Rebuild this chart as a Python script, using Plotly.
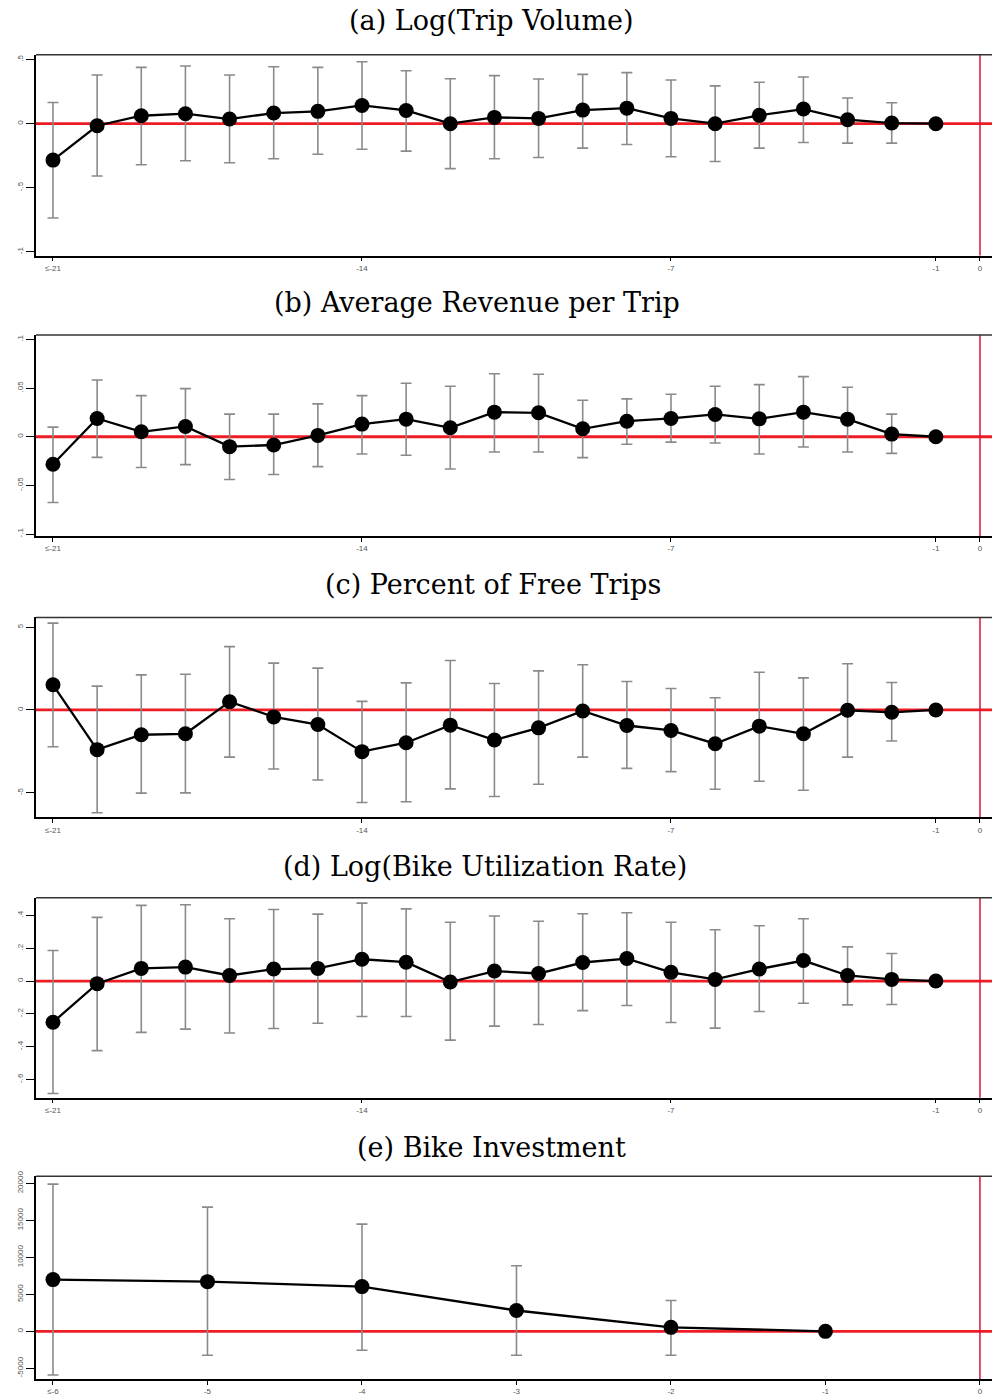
import plotly.graph_objects as go

# Event-time periods (weeks relative to treatment); -21 bins everything earlier
periods = [-21, -20, -19, -18, -17, -16, -15, -14, -13, -12, -11,
           -10, -9, -8, -7, -6, -5, -4, -3, -2, -1]
periods_e = [-6, -5, -4, -3, -2, -1]

# (a) Log(Trip Volume)
coef_a = [-0.284, -0.016, 0.062, 0.078, 0.036, 0.083, 0.096, 0.142, 0.103, 0.0, 0.049,
          0.041, 0.106, 0.121, 0.041, 0.0, 0.065, 0.114, 0.031, 0.005, 0.0]
hi_a = [0.165, 0.38, 0.439, 0.45, 0.38, 0.444, 0.439, 0.483, 0.413, 0.351, 0.375,
        0.349, 0.385, 0.398, 0.341, 0.295, 0.323, 0.364, 0.2, 0.163, 0.0]
lo_a = [-0.736, -0.408, -0.32, -0.289, -0.305, -0.274, -0.238, -0.199, -0.214, -0.351, -0.274,
        -0.264, -0.191, -0.163, -0.258, -0.295, -0.191, -0.147, -0.152, -0.152, 0.0]

# (b) Average Revenue per Trip
coef_b = [-0.0283, 0.0188, 0.0051, 0.0106, -0.0102, -0.0085, 0.0014, 0.013, 0.0181, 0.0092, 0.0253,
          0.0246, 0.0082, 0.016, 0.0188, 0.0229, 0.0184, 0.0253, 0.0181, 0.0027, 0.0]
hi_b = [0.0099, 0.0584, 0.0423, 0.0495, 0.0232, 0.0232, 0.0338, 0.0423, 0.055, 0.0519, 0.0648,
        0.0642, 0.0375, 0.0389, 0.0437, 0.0519, 0.0536, 0.0618, 0.0509, 0.0232, 0.0]
lo_b = [-0.0676, -0.0212, -0.0317, -0.0287, -0.044, -0.0389, -0.0307, -0.0177, -0.0191, -0.0331, -0.0157,
        -0.0157, -0.0215, -0.0078, -0.0055, -0.0065, -0.0177, -0.0106, -0.0157, -0.0171, 0.0]

# (c) Percent of Free Trips
coef_c = [1.52, -2.40, -1.50, -1.44, 0.50, -0.42, -0.88, -2.52, -1.98, -0.92, -1.82,
          -1.08, -0.06, -0.94, -1.24, -2.04, -0.98, -1.44, -0.02, -0.14, 0.0]
hi_c = [5.25, 1.44, 2.12, 2.16, 3.83, 2.83, 2.53, 0.52, 1.64, 2.99, 1.60,
        2.36, 2.73, 1.72, 1.30, 0.74, 2.28, 1.94, 2.79, 1.66, 0.0]
lo_c = [-2.22, -6.21, -5.03, -5.01, -2.85, -3.57, -4.23, -5.59, -5.55, -4.77, -5.23,
        -4.49, -2.85, -3.53, -3.73, -4.79, -4.31, -4.85, -2.85, -1.88, 0.0]

# (d) Log(Bike Utilization Rate)
coef_d = [-0.251, -0.016, 0.077, 0.085, 0.034, 0.073, 0.077, 0.133, 0.115, -0.006, 0.061,
          0.046, 0.113, 0.137, 0.053, 0.010, 0.073, 0.125, 0.034, 0.010, 0.0]
hi_d = [0.186, 0.388, 0.461, 0.465, 0.380, 0.436, 0.408, 0.475, 0.440, 0.358, 0.396,
        0.364, 0.410, 0.416, 0.358, 0.313, 0.337, 0.380, 0.208, 0.168, 0.0]
lo_d = [-0.685, -0.424, -0.313, -0.293, -0.317, -0.289, -0.257, -0.216, -0.216, -0.360, -0.275,
        -0.265, -0.180, -0.149, -0.253, -0.287, -0.186, -0.135, -0.145, -0.143, 0.0]

# (e) Bike Investment
coef_e = [7000, 6720, 6050, 2820, 540, 0]
hi_e = [19900, 16800, 14500, 8870, 4170, 0]
lo_e = [-5900, -3230, -2550, -3230, -3230, 0]

# Axis ticks
xticks_w = [-21, -14, -7, -1, 0]
xlabels_w = ["\u2264-21", "-14", "-7", "-1", "0"]
xticks_e = [-6, -5, -4, -3, -2, -1, 0]
xlabels_e = ["\u2264-6", "-5", "-4", "-3", "-2", "-1", "0"]

yticks_a = [0.5, 0, -0.5, -1]
ylabels_a = [".5", "0", "-.5", "-1"]
yticks_b = [0.1, 0.05, 0, -0.05, -0.1]
ylabels_b = [".1", ".05", "0", "-.05", "-.1"]
yticks_c = [5, 0, -5]
ylabels_c = ["5", "0", "-5"]
yticks_d = [0.4, 0.2, 0, -0.2, -0.4, -0.6]
ylabels_d = [".4", ".2", "0", "-.2", "-.4", "-.6"]
yticks_e = [20000, 15000, 10000, 5000, 0, -5000]
ylabels_e = ["20000", "15000", "10000", "5000", "0", "-5000"]

titles = ["(a) Log(Trip Volume)", "(b) Average Revenue per Trip",
          "(c) Percent of Free Trips", "(d) Log(Bike Utilization Rate)",
          "(e) Bike Investment"]

W, H = 992, 1396

panels = [
    dict(x=periods, c=coef_a, hi=hi_a, lo=lo_a, xt=xticks_w, xl=xlabels_w,
         yt=yticks_a, yl=ylabels_a, xr=[-21.385, 0.272], yr=[-1.029, 0.538],
         box=(49, 251), ty=15, tx=491),
    dict(x=periods, c=coef_b, hi=hi_b, lo=lo_b, xt=xticks_w, xl=xlabels_w,
         yt=yticks_b, yl=ylabels_b, xr=[-21.385, 0.272], yr=[-0.102, 0.1045],
         box=(331, 533), ty=298, tx=477),
    dict(x=periods, c=coef_c, hi=hi_c, lo=lo_c, xt=xticks_w, xl=xlabels_w,
         yt=yticks_c, yl=ylabels_c, xr=[-21.385, 0.272], yr=[-6.49, 5.59],
         box=(615, 816), ty=582, tx=493),
    dict(x=periods, c=coef_d, hi=hi_d, lo=lo_d, xt=xticks_w, xl=xlabels_w,
         yt=yticks_d, yl=ylabels_d, xr=[-21.385, 0.272], yr=[-0.711, 0.507],
         box=(897, 1098), ty=865, tx=485),
    dict(x=periods_e, c=coef_e, hi=hi_e, lo=lo_e, xt=xticks_e, xl=xlabels_e,
         yt=yticks_e, yl=ylabels_e, xr=[-6.11, 0.078], yr=[-6452, 20968],
         box=(1177, 1381), ty=1148, tx=491),
]

fig = go.Figure()
layout = dict(width=W, height=H, margin=dict(l=0, r=0, t=0, b=0),
              paper_bgcolor="white", plot_bgcolor="white", showlegend=False)
shapes = []
annotations = []
tick_font = dict(family="Liberation Sans, Arial, sans-serif", size=8, color="#555")

for i, p in enumerate(panels, start=1):
    sfx = "" if i == 1 else str(i)
    xa, ya = "x" + sfx, "y" + sfx
    top, bot = p["box"]
    dom_y = [1 - bot / H, 1 - top / H]

    err_plus = [h - c for h, c in zip(p["hi"], p["c"])]
    err_minus = [c - l for c, l in zip(p["c"], p["lo"])]

    fig.add_trace(go.Scatter(
        x=p["x"], y=p["c"], xaxis=xa, yaxis=ya, mode="lines+markers",
        line=dict(color="black", width=2.3),
        marker=dict(color="black", size=15),
        error_y=dict(type="data", symmetric=False, array=err_plus,
                     arrayminus=err_minus, color="#8a8a8a", thickness=1.6, width=5.5),
        cliponaxis=False,
    ))

    layout["xaxis" + sfx] = dict(
        domain=[36 / W, 1.0], range=p["xr"], anchor=ya,
        tickmode="array", tickvals=p["xt"], ticktext=p["xl"],
        ticks="outside", ticklen=4, tickwidth=1, tickcolor="black",
        showline=True, linecolor="black", linewidth=1.5,
        showgrid=False, zeroline=False, tickfont=tick_font, fixedrange=True,
    )
    layout["yaxis" + sfx] = dict(
        domain=dom_y, range=p["yr"], anchor=xa,
        tickmode="array", tickvals=p["yt"], ticktext=p["yl"],
        ticks="outside", ticklen=8, tickwidth=1.2, tickcolor="black",
        showline=True, linecolor="black", linewidth=1.5, tickangle=-90,
        showgrid=False, zeroline=False, tickfont=tick_font, fixedrange=True,
    )

    # top border of the plot box
    shapes.append(dict(type="line", xref=xa + " domain", yref=ya + " domain",
                       x0=0, x1=1, y0=1, y1=1,
                       line=dict(color="#333", width=1.5)))
    # horizontal reference line at zero
    shapes.append(dict(type="line", xref=xa + " domain", yref=ya,
                       x0=0, x1=1, y0=0, y1=0, layer="below",
                       line=dict(color="#ee1c24", width=2.8)))
    # vertical line at event time 0
    shapes.append(dict(type="line", xref=xa, yref=ya + " domain",
                       x0=0, x1=0, y0=0, y1=1, layer="below",
                       line=dict(color="#d8123a", width=1.5)))

    annotations.append(dict(text=titles[i - 1], xref="paper", yref="paper",
                            x=p["tx"] / W, y=1 - p["ty"] / H,
                            xanchor="center", yanchor="middle", showarrow=False,
                            font=dict(family="DejaVu Serif, serif", size=27, color="black")))

layout["shapes"] = shapes
layout["annotations"] = annotations
fig.update_layout(**layout)
fig.write_html("out.html")
